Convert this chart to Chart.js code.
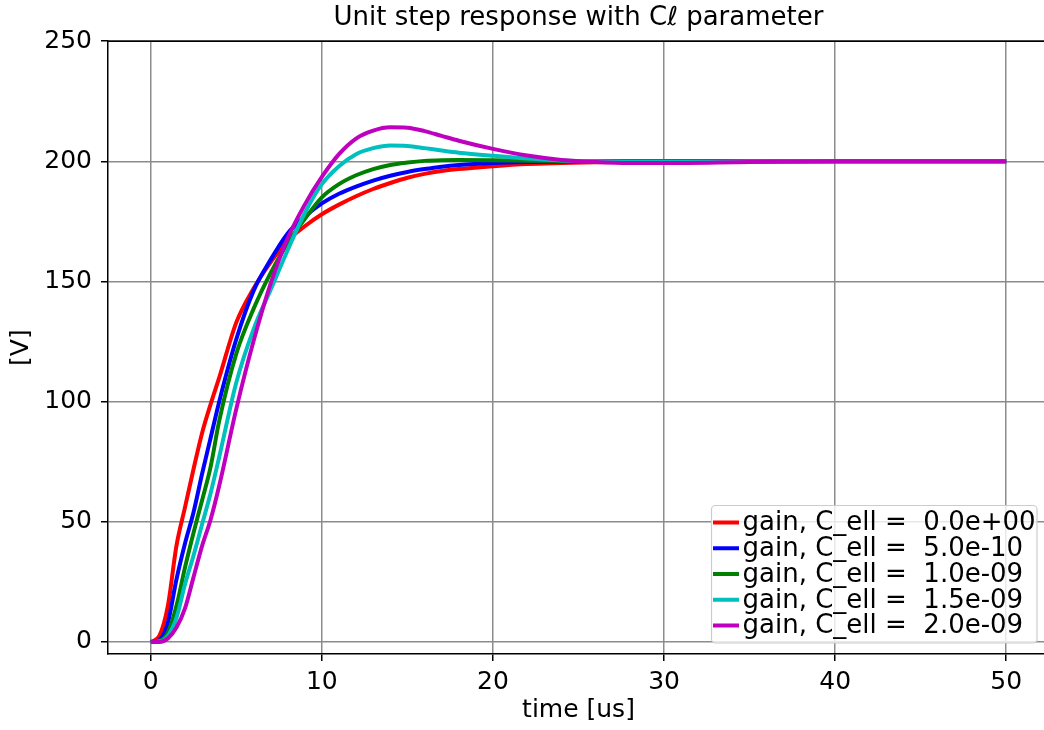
<!DOCTYPE html>
<html>

<head>
  <title>Unit step response</title>
  <script src="https://cdn.jsdelivr.net/npm/chart.js"></script>
  <style>
    body { margin: 0; overflow: hidden; background: #fff; }
  </style>
</head>

<body>
  <canvas id="stepChart" width="1060" height="730"></canvas>
  <script>
    // sample times [us] and the five step responses [V]
    const times = [0, 0.5, 1, 1.5, 2, 2.5, 3, 3.5, 4, 5, 6, 7, 8, 9, 10, 11, 12, 13, 14, 15, 16, 17, 18, 20, 22, 24, 26, 28, 30, 35, 40, 45, 50];
    const gain0 = [0, 2.5, 15, 40, 56, 72, 87, 99, 110, 133, 147, 158, 167, 173, 178, 182, 185.5, 188.5, 191, 193.2, 194.8, 196, 196.8, 198, 198.9, 199.3, 199.6, 199.8, 199.9, 200, 200, 200, 200];
    const gain1 = [0, 0.8, 8, 26, 41, 54, 70, 85, 100, 126, 146, 159, 170, 177, 182.5, 186.5, 189.5, 192, 194, 195.6, 196.8, 197.8, 198.5, 199.3, 199.7, 199.9, 200, 200, 200, 200, 200, 200, 200];
    const gain2 = [0, 0.4, 4, 15, 31, 45.5, 59, 73, 92, 120, 138.5, 153.5, 166, 176, 185, 190.5, 194.2, 196.8, 198.5, 199.5, 200.2, 200.5, 200.6, 200.5, 200.3, 200.1, 200, 200, 200, 200, 200, 200, 200];
    const gain3 = [0, 0.2, 2.5, 10, 24, 36, 49, 62, 77, 108, 130, 146.5, 163, 178.5, 190.5, 198, 203, 205.5, 206.6, 206.4, 205.5, 204.5, 203.6, 202.3, 201.2, 200.4, 200, 199.8, 199.8, 199.9, 200, 200, 200];
    const gain4 = [0, 0, 1.5, 6, 14, 27, 40, 51, 65, 97, 125, 149, 168, 182, 193.5, 203, 209.5, 212.8, 214.2, 214, 212.6, 210.6, 208.6, 205.2, 202.4, 200.6, 199.7, 199.3, 199.3, 199.7, 200, 200, 200];

    const seriesLabels = ['gain, C_ell =  0.0e+00', 'gain, C_ell =  5.0e-10', 'gain, C_ell =  1.0e-09', 'gain, C_ell =  1.5e-09', 'gain, C_ell =  2.0e-09'];
    const seriesColors = ['#ff0000', '#0000ff', '#008000', '#00bfbf', '#bf00bf'];
    const seriesValues = [gain0, gain1, gain2, gain3, gain4];

    const xTicks = [0, 10, 20, 30, 40, 50];
    const yTicks = [0, 50, 100, 150, 200, 250];

    Chart.defaults.font.family = "'DejaVu Sans', sans-serif";
    Chart.defaults.color = '#000';

    // top/right spines plus a matplotlib style legend inside the axes
    const framePlugin = {
      id: 'frame',
      afterDraw(chart) {
        const ctx = chart.ctx;
        const a = chart.chartArea;
        ctx.save();
        ctx.strokeStyle = '#000';
        ctx.lineWidth = 1.5;
        ctx.beginPath();
        ctx.moveTo(a.left, a.top);
        ctx.lineTo(a.right, a.top);
        ctx.lineTo(a.right, a.bottom);
        ctx.stroke();

        // legend box
        const bx = 711.5, by = 505.5, bw = 325.5, bh = 137.5;
        ctx.fillStyle = 'rgba(255,255,255,0.8)';
        ctx.strokeStyle = '#cccccc';
        ctx.lineWidth = 1.2;
        ctx.beginPath();
        ctx.roundRect(bx, by, bw, bh, 4);
        ctx.fill();
        ctx.stroke();

        ctx.font = "26px 'DejaVu Sans'";
        ctx.textBaseline = 'middle';
        ctx.textAlign = 'left';
        chart.data.datasets.forEach(function (ds, i) {
          const rowY = by + 17 + i * 25.75;
          ctx.strokeStyle = ds.borderColor;
          ctx.lineWidth = 4;
          ctx.beginPath();
          ctx.moveTo(bx + 1.5, rowY);
          ctx.lineTo(bx + 27.5, rowY);
          ctx.stroke();
          ctx.fillStyle = '#000';
          ctx.fillText(ds.label, bx + 31, rowY + 1);
        });
        ctx.restore();
      }
    };

    const datasets = seriesValues.map(function (vals, i) {
      return {
        label: seriesLabels[i],
        data: times.map(function (t, k) { return { x: t, y: vals[k] }; }),
        borderColor: seriesColors[i],
        backgroundColor: seriesColors[i],
        borderWidth: 4,
        pointRadius: 0,
        cubicInterpolationMode: 'monotone',
        order: seriesValues.length - i // last series drawn on top
      };
    });

    new Chart(document.getElementById('stepChart'), {
      type: 'line',
      data: { datasets: datasets },
      options: {
        responsive: false,
        animation: false,
        layout: { padding: { left: 0, right: 11, top: 0, bottom: 0 } },
        plugins: {
          legend: { display: false },
          tooltip: { enabled: false },
          title: {
            display: true,
            text: 'Unit step response with Cℓ parameter',
            fullSize: false,
            font: { size: 26, weight: 'normal' },
            padding: { top: 3, bottom: 7 }
          }
        },
        scales: {
          x: {
            type: 'linear',
            min: -2.5,
            max: 52.5,
            bounds: 'data',
            afterBuildTicks: function (scale) { scale.ticks = xTicks.map(function (v) { return { value: v }; }); },
            afterFit: function (scale) { scale.height = 76; },
            ticks: { font: { size: 25 }, padding: 6, maxRotation: 0 },
            grid: { color: '#8c8c8c', lineWidth: 1.5, tickColor: '#000', tickLength: 7, tickWidth: 1.5 },
            border: { color: '#000', width: 1.5 },
            title: { display: true, text: 'time [us]', font: { size: 25 }, padding: { top: 0, bottom: 5 } }
          },
          y: {
            min: -5,
            max: 250,
            bounds: 'data',
            afterBuildTicks: function (scale) { scale.ticks = yTicks.map(function (v) { return { value: v }; }); },
            afterFit: function (scale) { scale.width = 108; },
            ticks: { font: { size: 25 }, padding: 9 },
            grid: { color: '#8c8c8c', lineWidth: 1.5, tickColor: '#000', tickLength: 7, tickWidth: 1.5 },
            border: { color: '#000', width: 1.5 },
            title: { display: true, text: '[V]', font: { size: 25 }, padding: { top: 6, bottom: 0 } }
          }
        }
      },
      plugins: [framePlugin]
    });
  </script>
</body>

</html>
